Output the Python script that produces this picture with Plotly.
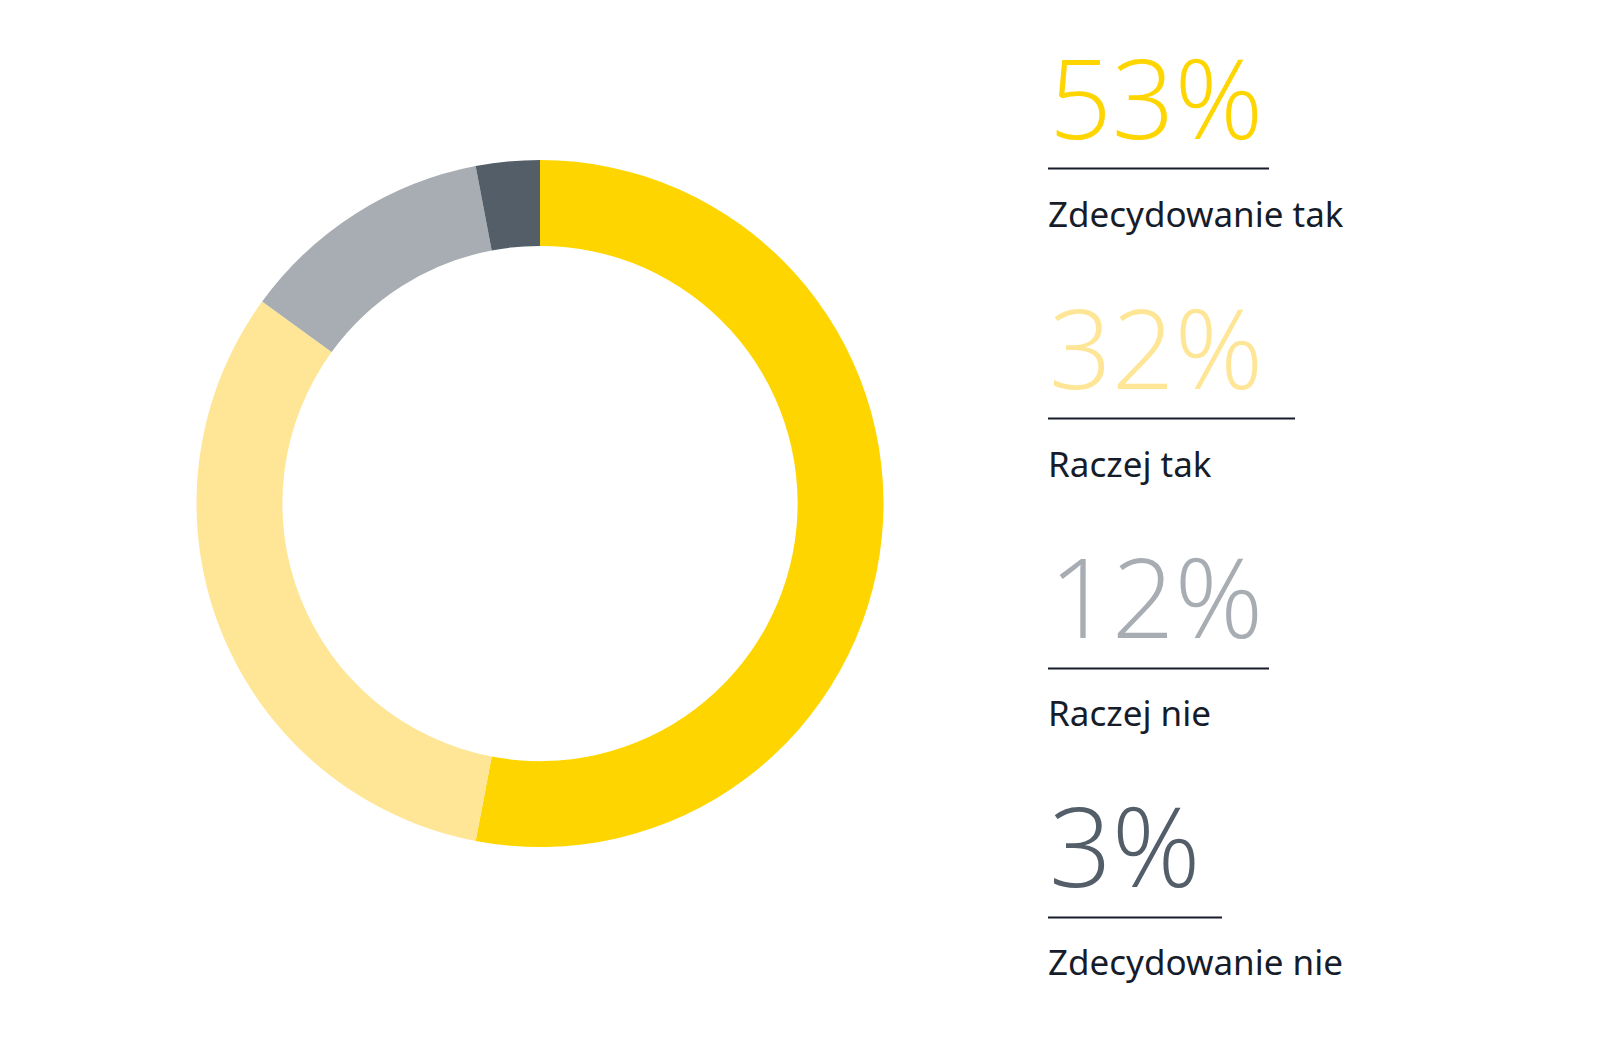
import plotly.graph_objects as go

W, H = 1620, 1051

categories = ["Zdecydowanie tak", "Raczej tak", "Raczej nie", "Zdecydowanie nie"]
values = [53, 32, 12, 3]
pct_labels = ["53%", "32%", "12%", "3%"]
colors = ["#FFD500", "#FEE696", "#A7ADB2", "#535E69"]
text_color = "#161C2A"

fig = go.Figure()
fig.add_trace(go.Pie(
    labels=categories, values=values, sort=False, direction="clockwise",
    rotation=0, hole=0.75, textinfo="none", hoverinfo="label+percent",
    marker=dict(colors=colors, line=dict(width=0)),
    domain=dict(x=[(540 - 343.5) / W, (540 + 343.5) / W],
                y=[1 - 847 / H, 1 - 160 / H]),
    showlegend=False,
))

def px(x):
    return x / W

def py(y):
    return 1 - y / H

num_centers = [98.5, 349, 597, 846]
under_y = [168.4, 418.4, 668.5, 917.5]
under_x2 = [1269, 1295, 1269, 1222]
label_centers = [212.5, 462, 711, 960]

annotations = []
shapes = []
for i, (p, c, lab) in enumerate(zip(pct_labels, colors, categories)):
    annotations.append(dict(
        x=px(1047), y=py(num_centers[i] - 2.5), xref="paper", yref="paper",
        xanchor="left", yanchor="middle", showarrow=False, text=p,
        font=dict(family="Open Sans", size=110, color=c, weight=300),
    ))
    annotations.append(dict(
        x=px(1046), y=py(label_centers[i] + 1), xref="paper", yref="paper",
        xanchor="left", yanchor="middle", showarrow=False, text=lab,
        font=dict(family="Noto Sans", size=35, color=text_color),
    ))
    shapes.append(dict(
        type="line", xref="paper", yref="paper",
        x0=px(1048), x1=px(under_x2[i]), y0=py(under_y[i]), y1=py(under_y[i]),
        line=dict(color=text_color, width=2),
    ))

fig.update_layout(
    width=W, height=H, margin=dict(l=0, r=0, t=0, b=0),
    paper_bgcolor="white", plot_bgcolor="white",
    annotations=annotations, shapes=shapes,
)

fig.write_html("out.html", config={"displayModeBar": False},
               post_script="document.body.style.margin='0';")
